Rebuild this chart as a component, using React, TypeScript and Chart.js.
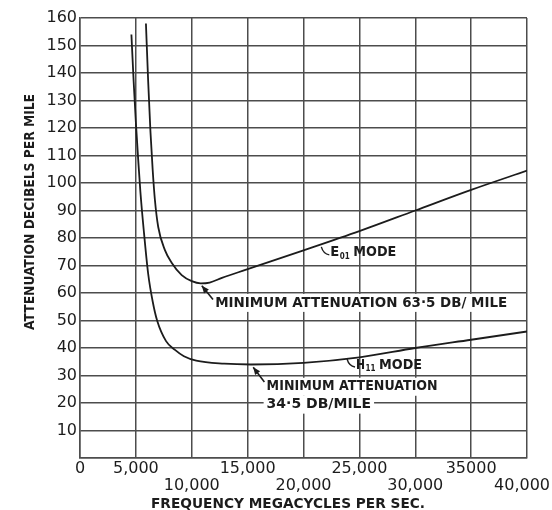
import React, { useEffect, useRef } from "react";
import { Chart, registerables } from "chart.js";

Chart.register(...registerables);

// ---- data (frequency in megacycles/sec, attenuation in dB/mile) ----
const freqE01 = [5900, 6100, 6300, 6500, 6700, 7000, 7600, 8200, 9100, 10000, 10800, 11600, 12700, 14800, 20000, 25000, 30000, 35000, 40000];
const attE01 = [158, 137, 119, 105, 94, 84, 75.6, 71, 66.5, 64.3, 63.5, 63.8, 65.5, 68.4, 75.5, 82.5, 90, 97.5, 104.5];

const freqH11 = [4600, 4800, 5000, 5200, 5400, 5700, 6100, 6500, 6900, 7700, 8500, 9300, 10400, 12900, 15300, 20000, 25000, 30000, 35000, 40000];
const attH11 = [154, 137, 122, 109, 97, 83, 67, 57, 50, 42.5, 39.3, 37, 35.4, 34.3, 34, 34.6, 36.6, 40, 43, 46];

const xTickValues = [0, 5000, 10000, 15000, 20000, 25000, 30000, 35000, 40000];
const xTickLabels = ["0", "5,000", "10,000", "15,000", "20,000", "25,000", "30,000", "35000", "40,000"];

const xTitle = "FREQUENCY MEGACYCLES PER SEC.";
const yTitle = "ATTENUATION DECIBELS PER MILE";

const minE01Text = "MINIMUM ATTENUATION 63·5 DB/ MILE";
const minH11Line1 = "MINIMUM ATTENUATION";
const minH11Line2 = "34·5 DB/MILE";

const INK = "#1c1c1c";
const GRID = "#4d4d4d";
const FONT = "'DejaVu Sans', sans-serif";

function arrow(ctx: CanvasRenderingContext2D, x1: number, y1: number, x2: number, y2: number) {
  ctx.beginPath();
  ctx.moveTo(x1, y1);
  ctx.lineTo(x2, y2);
  ctx.stroke();
  const a = Math.atan2(y2 - y1, x2 - x1);
  const L = 8;
  ctx.beginPath();
  ctx.moveTo(x2, y2);
  ctx.lineTo(x2 - L * Math.cos(a - 0.4), y2 - L * Math.sin(a - 0.4));
  ctx.lineTo(x2 - L * Math.cos(a + 0.4), y2 - L * Math.sin(a + 0.4));
  ctx.closePath();
  ctx.fill();
}

const annotPlugin = {
  id: "annotPlugin",
  afterDraw(chart: any) {
    const ctx: CanvasRenderingContext2D = chart.ctx;
    const xs = chart.scales.x;
    const ys = chart.scales.y;
    const px = (v: number) => xs.getPixelForValue(v);
    const py = (v: number) => ys.getPixelForValue(v);
    ctx.save();
    ctx.fillStyle = INK;
    ctx.strokeStyle = INK;

    // staggered x tick labels
    ctx.font = `16px ${FONT}`;
    ctx.textBaseline = "middle";
    ctx.textAlign = "center";
    xTickValues.forEach((v, i) => {
      const label = xTickLabels[i];
      const lower = i > 0 && i % 2 === 0;
      const w = ctx.measureText(label).width;
      let cx = px(v);
      const maxRight = chart.width - 2;
      if (cx + w / 2 > maxRight) cx = maxRight - w / 2;
      ctx.fillText(label, cx, ys.bottom + (lower ? 28 : 11));
    });

    // axis titles
    ctx.font = `bold 14px ${FONT}`;
    ctx.textAlign = "center";
    ctx.fillText(xTitle, 288, 504, 274);
    ctx.save();
    ctx.translate(30, 212);
    ctx.rotate(-Math.PI / 2);
    ctx.fillText(yTitle, 0, 0, 236);
    ctx.restore();

    const label = (text: string, x: number, y: number, maxW: number, bg: boolean) => {
      ctx.font = `bold 14px ${FONT}`;
      const w = Math.min(ctx.measureText(text).width, maxW);
      if (bg) {
        ctx.fillStyle = "#ffffff";
        ctx.fillRect(x - 3, y - 9, w + 6, 18);
        ctx.fillStyle = INK;
      }
      ctx.textAlign = "left";
      ctx.fillText(text, x, y, maxW);
    };

    // E01 minimum annotation
    label(minE01Text, px(12100), py(56.4), 292, true);
    ctx.lineWidth = 1.6;
    arrow(ctx, px(11900), py(57.6), px(10900), py(62.6));

    // H11 minimum annotation
    label(minH11Line1, px(16700), py(25.9), 171, true);
    label(minH11Line2, px(16700), py(19.4), 118, true);
    arrow(ctx, px(16500), py(27.6), px(15500), py(33.0));

    const modeLabel = (main: string, sub: string, fx: number, fy: number) => {
      const x0 = px(fx);
      const y0 = py(fy);
      ctx.textAlign = "left";
      ctx.textBaseline = "middle";
      ctx.font = `bold 14px ${FONT}`;
      ctx.fillText(main, x0, y0, 9);
      ctx.font = `bold 8px ${FONT}`;
      ctx.fillText(sub, x0 + 9.5, y0 + 4, 10);
      ctx.font = `bold 14px ${FONT}`;
      ctx.fillText("MODE", x0 + 23, y0, 43);
      ctx.lineWidth = 1.4;
      ctx.beginPath();
      ctx.moveTo(x0 - 9, y0 - 6);
      ctx.quadraticCurveTo(x0 - 7, y0 + 1, x0 - 1, y0 + 2);
      ctx.stroke();
    };
    modeLabel("E", "01", 22400, 74.6);
    modeLabel("H", "11", 24700, 33.8);

    ctx.restore();
  },
};

export default function App() {
  const ref = useRef<HTMLCanvasElement | null>(null);
  useEffect(() => {
    if (!ref.current) return;
    const chart = new Chart(ref.current, {
      type: "scatter",
      data: {
        datasets: [
          {
            label: "E01 mode",
            data: freqE01.map((f, i) => ({ x: f, y: attE01[i] })),
            showLine: true,
            borderColor: INK,
            borderWidth: 1.8,
            pointRadius: 0,
            cubicInterpolationMode: "monotone",
          },
          {
            label: "H11 mode",
            data: freqH11.map((f, i) => ({ x: f, y: attH11[i] })),
            showLine: true,
            borderColor: INK,
            borderWidth: 1.8,
            pointRadius: 0,
            cubicInterpolationMode: "monotone",
          },
        ],
      },
      options: {
        responsive: false,
        animation: false,
        layout: { padding: { top: 18, right: 25, bottom: 52, left: 0 } },
        plugins: {
          legend: { display: false },
          tooltip: { enabled: false },
        },
        scales: {
          x: {
            type: "linear",
            min: 0,
            max: 40000,
            ticks: { stepSize: 5000, display: false },
            grid: { color: GRID, lineWidth: 1.5, drawTicks: false },
            border: { color: GRID, width: 1.5 },
            afterFit: (s: any) => {
              s.height = 0;
            },
          },
          y: {
            min: 0,
            max: 160,
            ticks: {
              stepSize: 10,
              color: INK,
              padding: 3,
              font: { family: "'DejaVu Sans', sans-serif", size: 16 },
              callback: (v: any) => (v === 0 ? "" : String(v)),
            },
            grid: { color: GRID, lineWidth: 1.5, drawTicks: false },
            border: { color: GRID, width: 1.5 },
            afterFit: (s: any) => {
              s.width = 80;
            },
          },
        },
      },
      plugins: [annotPlugin],
    } as any);
    return () => chart.destroy();
  }, []);

  return (
    <div style={{ position: "fixed", left: 0, top: 0, width: 552, height: 510, background: "#fff" }}>
      <canvas ref={ref} width={552} height={510} style={{ display: "block" }} />
    </div>
  );
}
